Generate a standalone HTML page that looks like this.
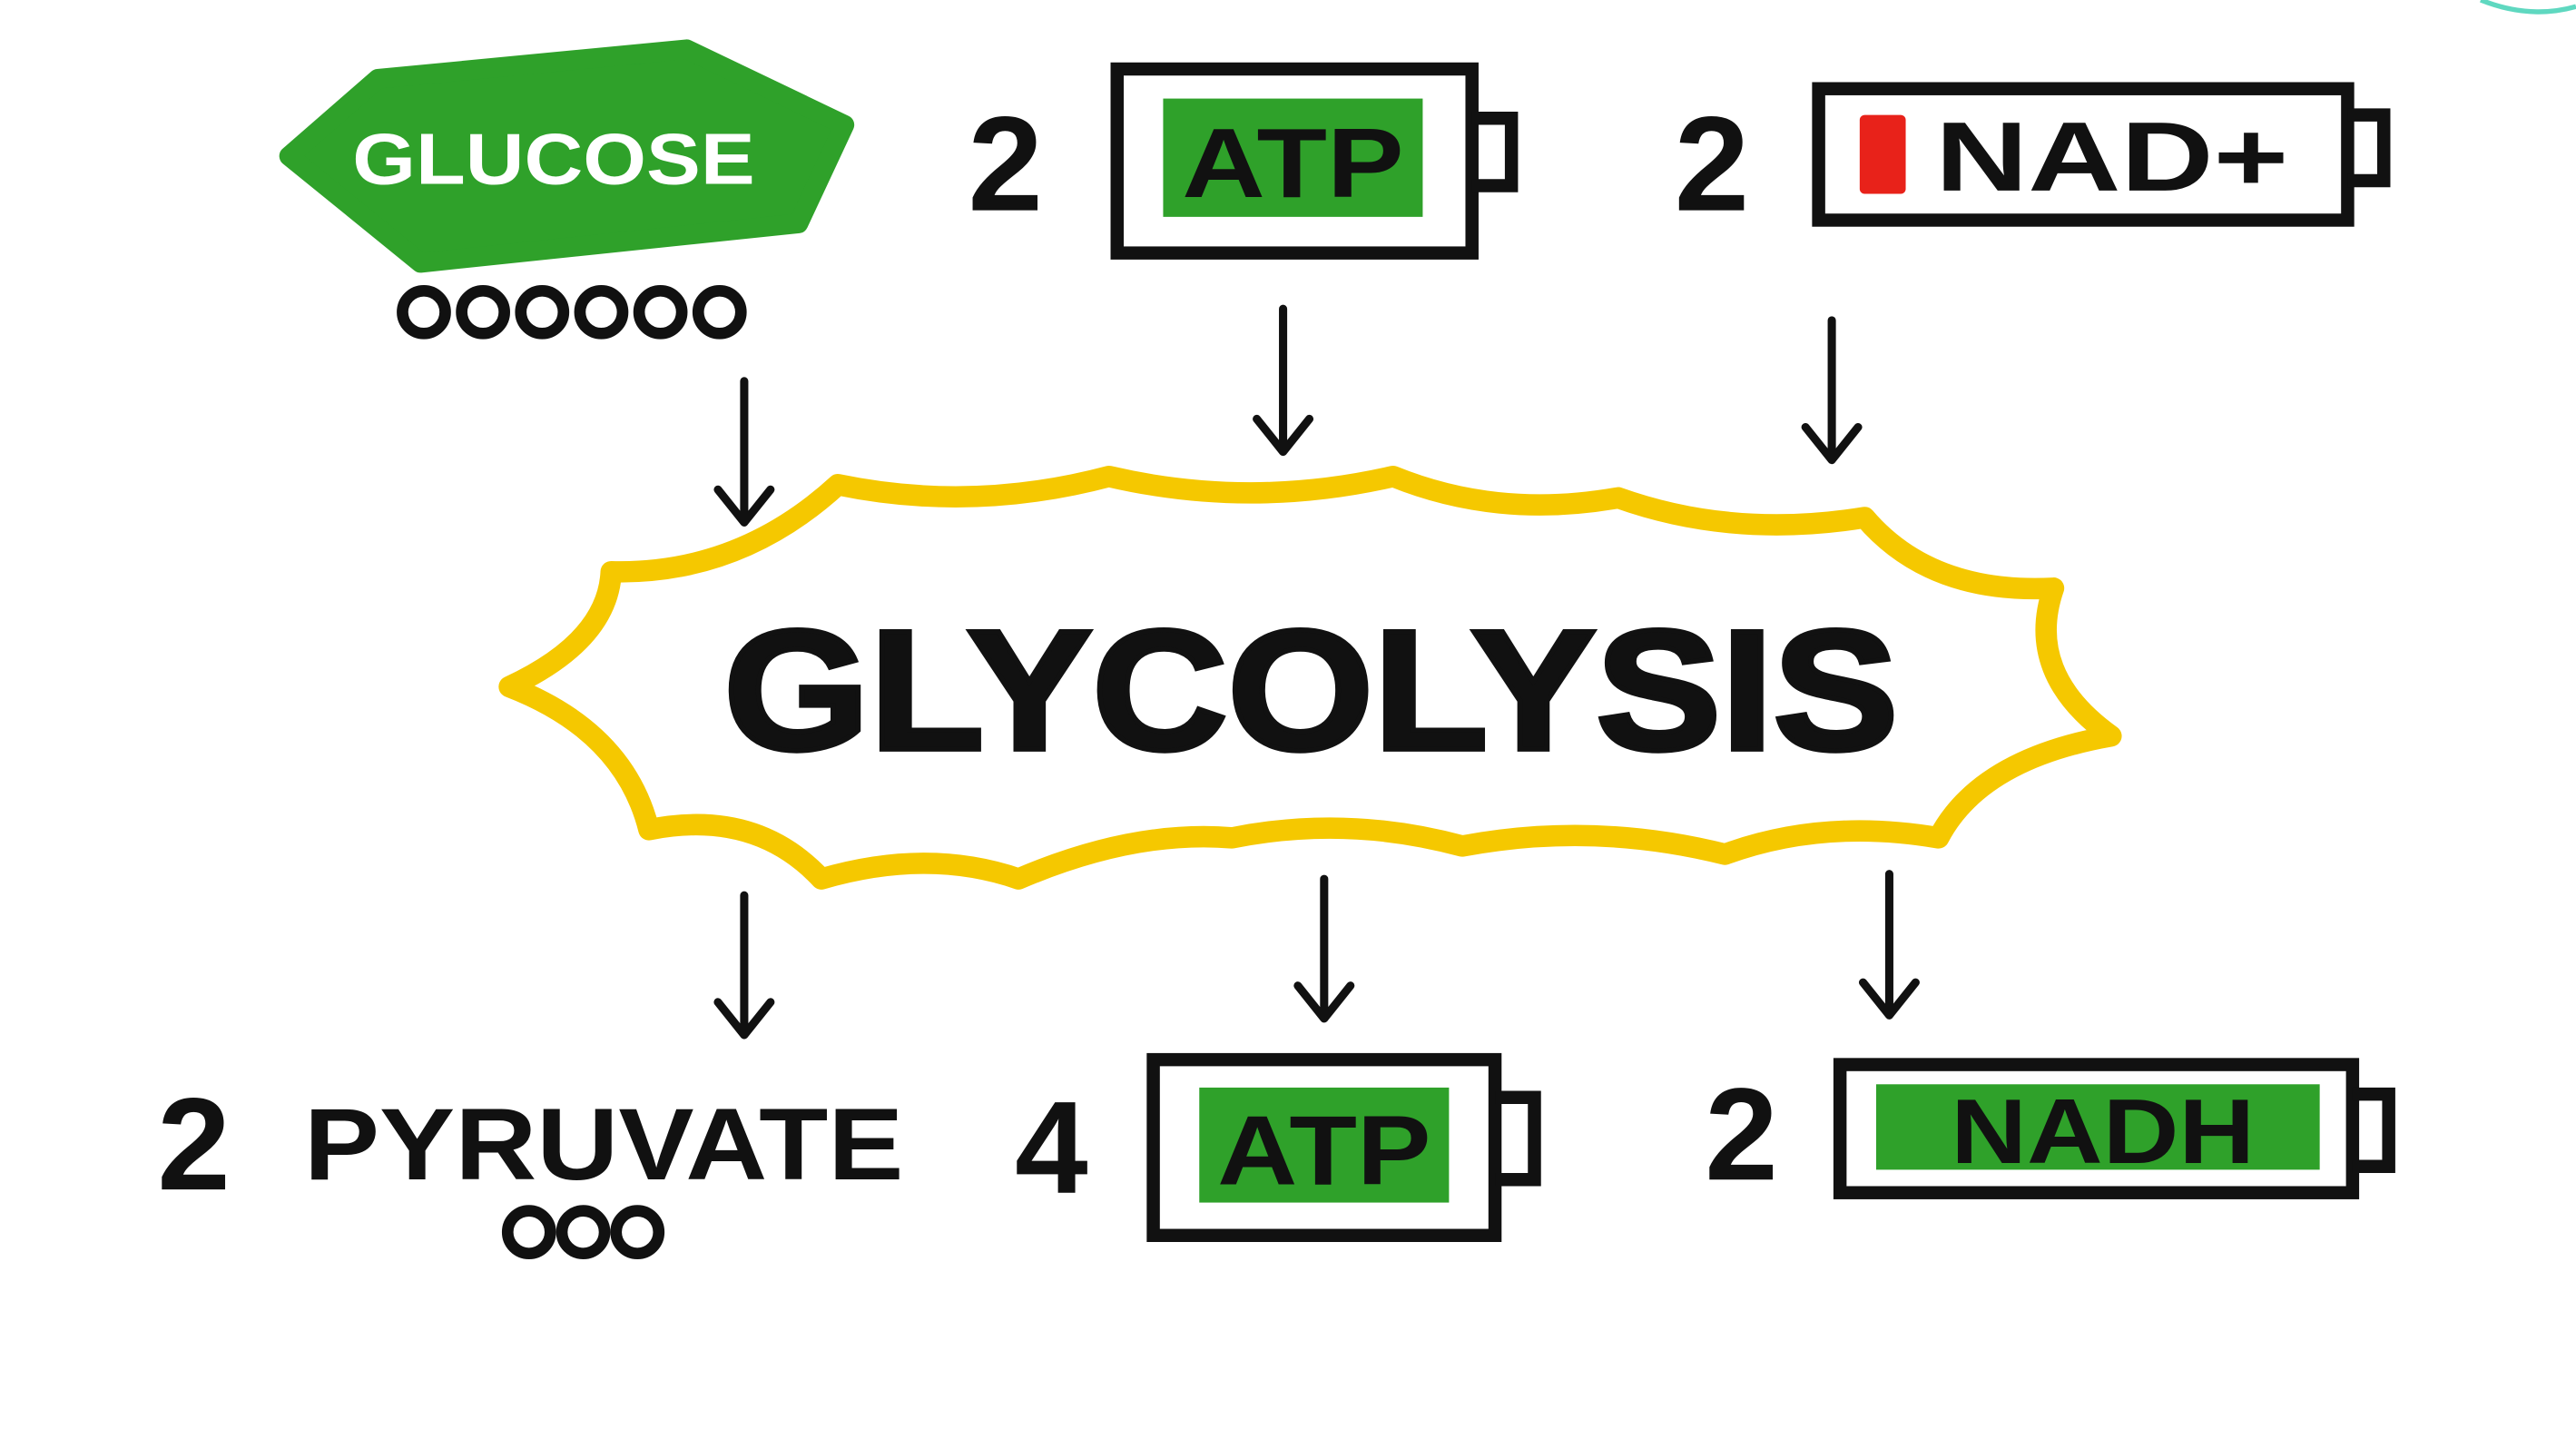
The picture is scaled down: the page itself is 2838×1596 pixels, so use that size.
<!DOCTYPE html>
<html><head><meta charset="utf-8"><style>
html,body{margin:0;padding:0;background:#fff;}
svg{display:block;}
text{font-family:"Liberation Sans",sans-serif;font-weight:bold;}
</style></head><body>
<svg width="2838" height="1596" viewBox="0 0 1568 882" preserveAspectRatio="none" xmlns="http://www.w3.org/2000/svg">
<rect width="1568" height="882" fill="#fff"/>
<path d="M1510 0 Q1540 12 1568 4" fill="none" stroke="#5fd8c0" stroke-width="3"/>
<!-- glucose -->
<polygon points="176,95 230,48 418,30 514,76 486,136 256,160" fill="#2fa12a" stroke="#2fa12a" stroke-width="12" stroke-linejoin="round"/>
<text x="337" y="112" font-size="44" fill="#fff" text-anchor="middle" textLength="245" lengthAdjust="spacingAndGlyphs">GLUCOSE</text>
<g fill="#fff" stroke="#111" stroke-width="7">
<circle cx="258" cy="190" r="13"/><circle cx="294" cy="190" r="13"/><circle cx="330" cy="190" r="13"/><circle cx="366" cy="190" r="13"/><circle cx="402" cy="190" r="13"/><circle cx="438" cy="190" r="13"/>
<circle cx="322" cy="750" r="13"/><circle cx="355" cy="750" r="13"/><circle cx="388" cy="750" r="13"/>
</g>
<!-- top batteries -->
<text x="612" y="128" font-size="82" text-anchor="middle" fill="#111">2</text>
<rect x="680" y="42" width="216" height="112" fill="none" stroke="#111" stroke-width="8"/>
<path d="M896 72 H920 V113 H896" fill="none" stroke="#111" stroke-width="8"/>
<rect x="708" y="60" width="158" height="72" fill="#2fa12a"/>
<text x="787" y="120" font-size="60" text-anchor="middle" fill="#111" textLength="135" lengthAdjust="spacingAndGlyphs">ATP</text>

<text x="1042" y="128" font-size="82" text-anchor="middle" fill="#111">2</text>
<rect x="1107" y="54" width="322" height="80" fill="none" stroke="#111" stroke-width="8"/>
<path d="M1429 70 H1451 V110 H1429" fill="none" stroke="#111" stroke-width="8"/>
<rect x="1132" y="70" width="28" height="48" fill="#e8221a" rx="3"/>
<text x="1178" y="116" font-size="60" fill="#111" textLength="215" lengthAdjust="spacingAndGlyphs">NAD+</text>
<!-- arrows -->
<g stroke="#111" stroke-width="5" fill="none" stroke-linecap="round" stroke-linejoin="round">
<path d="M453 232 V316 M437 298 L453 318 L469 298"/>
<path d="M781 188 V273 M765 255 L781 275 L797 255"/>
<path d="M1115 195 V278 M1099 260 L1115 280 L1131 260"/>
<path d="M453 545 V628 M437 610 L453 630 L469 610"/>
<path d="M806 535 V618 M790 600 L806 620 L822 600"/>
<path d="M1150 532 V616 M1134 598 L1150 618 L1166 598"/>
</g>
<!-- starburst -->
<path d="M310 418 Q370 390 372 348 Q450 350 510 295 Q592 312 675 290 Q761 310 848 290 Q912 316 985 303 Q1055 328 1135 315 Q1175 362 1250 358 Q1232 410 1285 448 Q1205 462 1180 510 Q1110 498 1050 520 Q970 500 890 515 Q820 496 750 510 Q690 505 620 535 Q565 516 500 535 Q460 492 395 505 Q380 445 310 418 Z" fill="#fff" stroke="#f5c800" stroke-width="13" stroke-linejoin="round"/>
<text x="798" y="456" font-size="104" text-anchor="middle" fill="#111" font-weight="normal" stroke="#111" stroke-width="3" textLength="715" lengthAdjust="spacingAndGlyphs">GLYCOLYSIS</text>
<!-- bottom -->
<text x="118" y="724" font-size="80" text-anchor="middle" fill="#111">2</text>
<text x="185" y="718" font-size="62" fill="#111" textLength="365" lengthAdjust="spacingAndGlyphs">PYRUVATE</text>
<text x="640" y="726" font-size="80" text-anchor="middle" fill="#111">4</text>
<rect x="702" y="645" width="208" height="107" fill="none" stroke="#111" stroke-width="8"/>
<path d="M910 668 H934 V718 H910" fill="none" stroke="#111" stroke-width="8"/>
<rect x="730" y="662" width="152" height="70" fill="#2fa12a"/>
<text x="806" y="721" font-size="60" text-anchor="middle" fill="#111" textLength="130" lengthAdjust="spacingAndGlyphs">ATP</text>
<text x="1060" y="718" font-size="80" text-anchor="middle" fill="#111">2</text>
<rect x="1120" y="648" width="312" height="78" fill="none" stroke="#111" stroke-width="8"/>
<path d="M1432 666 H1454 V710 H1432" fill="none" stroke="#111" stroke-width="8"/>
<rect x="1142" y="660" width="270" height="52" fill="#2fa12a"/>
<text x="1280" y="708" font-size="56" text-anchor="middle" fill="#111" textLength="185" lengthAdjust="spacingAndGlyphs">NADH</text>
</svg>
</body></html>
